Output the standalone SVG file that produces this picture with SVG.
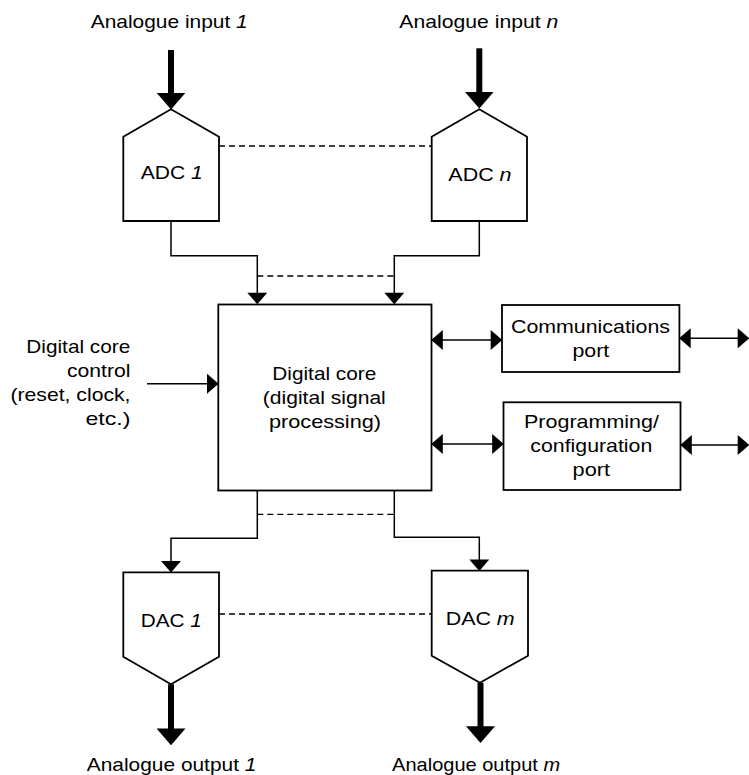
<svg xmlns="http://www.w3.org/2000/svg" width="749" height="775" viewBox="0 0 749 775">
  <style>
    .box { fill: #ffffff; stroke: #000000; stroke-width: 1.8; stroke-linejoin: miter; }
    .wire { fill: none; stroke: #000000; stroke-width: 1.5; }
    .dash { fill: none; stroke: #000000; stroke-width: 1.3; stroke-dasharray: 6 4; }
    .thick { fill: none; stroke: #000000; stroke-width: 6; }
    text { font-family: "Liberation Sans", Arial, Helvetica, sans-serif; font-size: 19px; fill: #000000; }
    .it { font-style: italic; }
  </style>
  <defs>
    <!-- small solid arrowhead, tip sits 5px beyond the line end -->
    <marker id="head" markerUnits="userSpaceOnUse" markerWidth="12" markerHeight="20" viewBox="0 0 11 19" refX="6" refY="9.5" orient="auto-start-reverse">
      <path d="M0,0 L11,9.5 L0,19 z" fill="#000000"/>
    </marker>
    <!-- heavy arrowhead for analogue signal paths -->
    <marker id="bighead" markerUnits="userSpaceOnUse" markerWidth="17" markerHeight="29" viewBox="0 0 16.5 28.5" refX="2" refY="14.25" orient="auto">
      <path d="M0,0 L16.5,14.25 L0,28.5 z" fill="#000000"/>
    </marker>
  </defs>

  <!-- signal paths -->
  <g id="connectors">
    <!-- analogue inputs -->
    <line class="thick" x1="171" y1="50" x2="171" y2="94.8" marker-end="url(#bighead)"/>
    <line class="thick" x1="479.3" y1="48.3" x2="479.3" y2="93.8" marker-end="url(#bighead)"/>
    <!-- analogue outputs -->
    <line class="thick" x1="171" y1="684.3" x2="171" y2="730.5" marker-end="url(#bighead)"/>
    <line class="thick" x1="480.5" y1="682.7" x2="480.5" y2="728.2" marker-end="url(#bighead)"/>

    <!-- ADC outputs into the core -->
    <polyline class="wire" points="171,221 171,255.7 257.3,255.7 257.3,299" marker-end="url(#head)"/>
    <polyline class="wire" points="479.3,221 479.3,255.7 394.3,255.7 394.3,299" marker-end="url(#head)"/>
    <line class="dash" x1="257.3" y1="276" x2="394.3" y2="276"/>
    <line class="dash" x1="219" y1="146" x2="431.7" y2="146"/>

    <!-- core outputs into the DACs -->
    <polyline class="wire" points="257.3,490.5 257.3,538.3 171,538.3 171,567.3" marker-end="url(#head)"/>
    <polyline class="wire" points="394.3,490.5 394.3,537.3 479.3,537.3 479.3,565.7" marker-end="url(#head)"/>
    <line class="dash" x1="257.3" y1="514.3" x2="394.3" y2="514.3"/>
    <line class="dash" x1="219" y1="614" x2="431.7" y2="614"/>

    <!-- core control -->
    <line class="wire" x1="147" y1="383.7" x2="213.3" y2="383.7" marker-end="url(#head)"/>

    <!-- bidirectional ports -->
    <line class="wire" x1="436.5" y1="340" x2="497" y2="340" marker-start="url(#head)" marker-end="url(#head)"/>
    <line class="wire" x1="684.4" y1="338.3" x2="744" y2="338.3" marker-start="url(#head)" marker-end="url(#head)"/>
    <line class="wire" x1="436.5" y1="444" x2="498.5" y2="444" marker-start="url(#head)" marker-end="url(#head)"/>
    <line class="wire" x1="685.5" y1="445" x2="744" y2="445" marker-start="url(#head)" marker-end="url(#head)"/>
  </g>

  <g id="label-input-1">
    <text x="90.7" y="28.3" textLength="157" lengthAdjust="spacingAndGlyphs">Analogue input <tspan class="it">1</tspan></text>
  </g>
  <g id="label-input-n">
    <text x="399.3" y="28.3" textLength="159" lengthAdjust="spacingAndGlyphs">Analogue input <tspan class="it">n</tspan></text>
  </g>

  <g id="adc-1">
    <polygon class="box" points="123.3,221 123.3,136.7 171,109.3 219,136.7 219,221"/>
    <text x="140.7" y="179" textLength="62" lengthAdjust="spacingAndGlyphs">ADC <tspan class="it">1</tspan></text>
  </g>
  <g id="adc-n">
    <polygon class="box" points="431.7,221 431.7,136.7 479.3,109.3 527,136.7 527,221"/>
    <text x="448.3" y="181" textLength="63.3" lengthAdjust="spacingAndGlyphs">ADC <tspan class="it">n</tspan></text>
  </g>

  <g id="core-control">
    <text x="26.3" y="353" textLength="104" lengthAdjust="spacingAndGlyphs">Digital core</text>
    <text x="66.9" y="377" textLength="63.5" lengthAdjust="spacingAndGlyphs">control</text>
    <text x="10.5" y="401" textLength="120" lengthAdjust="spacingAndGlyphs">(reset, clock,</text>
    <text x="85.4" y="425" textLength="45" lengthAdjust="spacingAndGlyphs">etc.)</text>
  </g>

  <g id="digital-core">
    <rect class="box" x="218.3" y="304.5" width="213.2" height="186"/>
    <text x="272.3" y="380" textLength="104" lengthAdjust="spacingAndGlyphs">Digital core</text>
    <text x="262.8" y="404" textLength="123" lengthAdjust="spacingAndGlyphs">(digital signal</text>
    <text x="269" y="428" textLength="112" lengthAdjust="spacingAndGlyphs">processing)</text>
  </g>

  <g id="comms-port">
    <rect class="box" x="502" y="305" width="177.4" height="67"/>
    <text x="511" y="333" textLength="159" lengthAdjust="spacingAndGlyphs">Communications</text>
    <text x="572.4" y="357" textLength="36.8" lengthAdjust="spacingAndGlyphs">port</text>
  </g>

  <g id="programming-port">
    <rect class="box" x="503.5" y="402.3" width="177" height="87.7"/>
    <text x="524" y="428" textLength="135" lengthAdjust="spacingAndGlyphs">Programming/</text>
    <text x="530.3" y="452" textLength="122" lengthAdjust="spacingAndGlyphs">configuration</text>
    <text x="572.6" y="476" textLength="37.4" lengthAdjust="spacingAndGlyphs">port</text>
  </g>

  <g id="dac-1">
    <polygon class="box" points="123.3,572.3 219,572.3 219,656.7 171,684.3 123.3,656.7"/>
    <text x="140.7" y="626.7" textLength="61" lengthAdjust="spacingAndGlyphs">DAC <tspan class="it">1</tspan></text>
  </g>
  <g id="dac-m">
    <polygon class="box" points="431.7,570.7 528,570.7 528,655.7 480,682.7 431.7,655.7"/>
    <text x="445.7" y="625" textLength="69" lengthAdjust="spacingAndGlyphs">DAC <tspan class="it">m</tspan></text>
  </g>

  <g id="label-output-1">
    <text x="86.8" y="771" textLength="169.6" lengthAdjust="spacingAndGlyphs">Analogue output <tspan class="it">1</tspan></text>
  </g>
  <g id="label-output-m">
    <text x="392.1" y="771" textLength="168" lengthAdjust="spacingAndGlyphs">Analogue output <tspan class="it">m</tspan></text>
  </g>
</svg>
